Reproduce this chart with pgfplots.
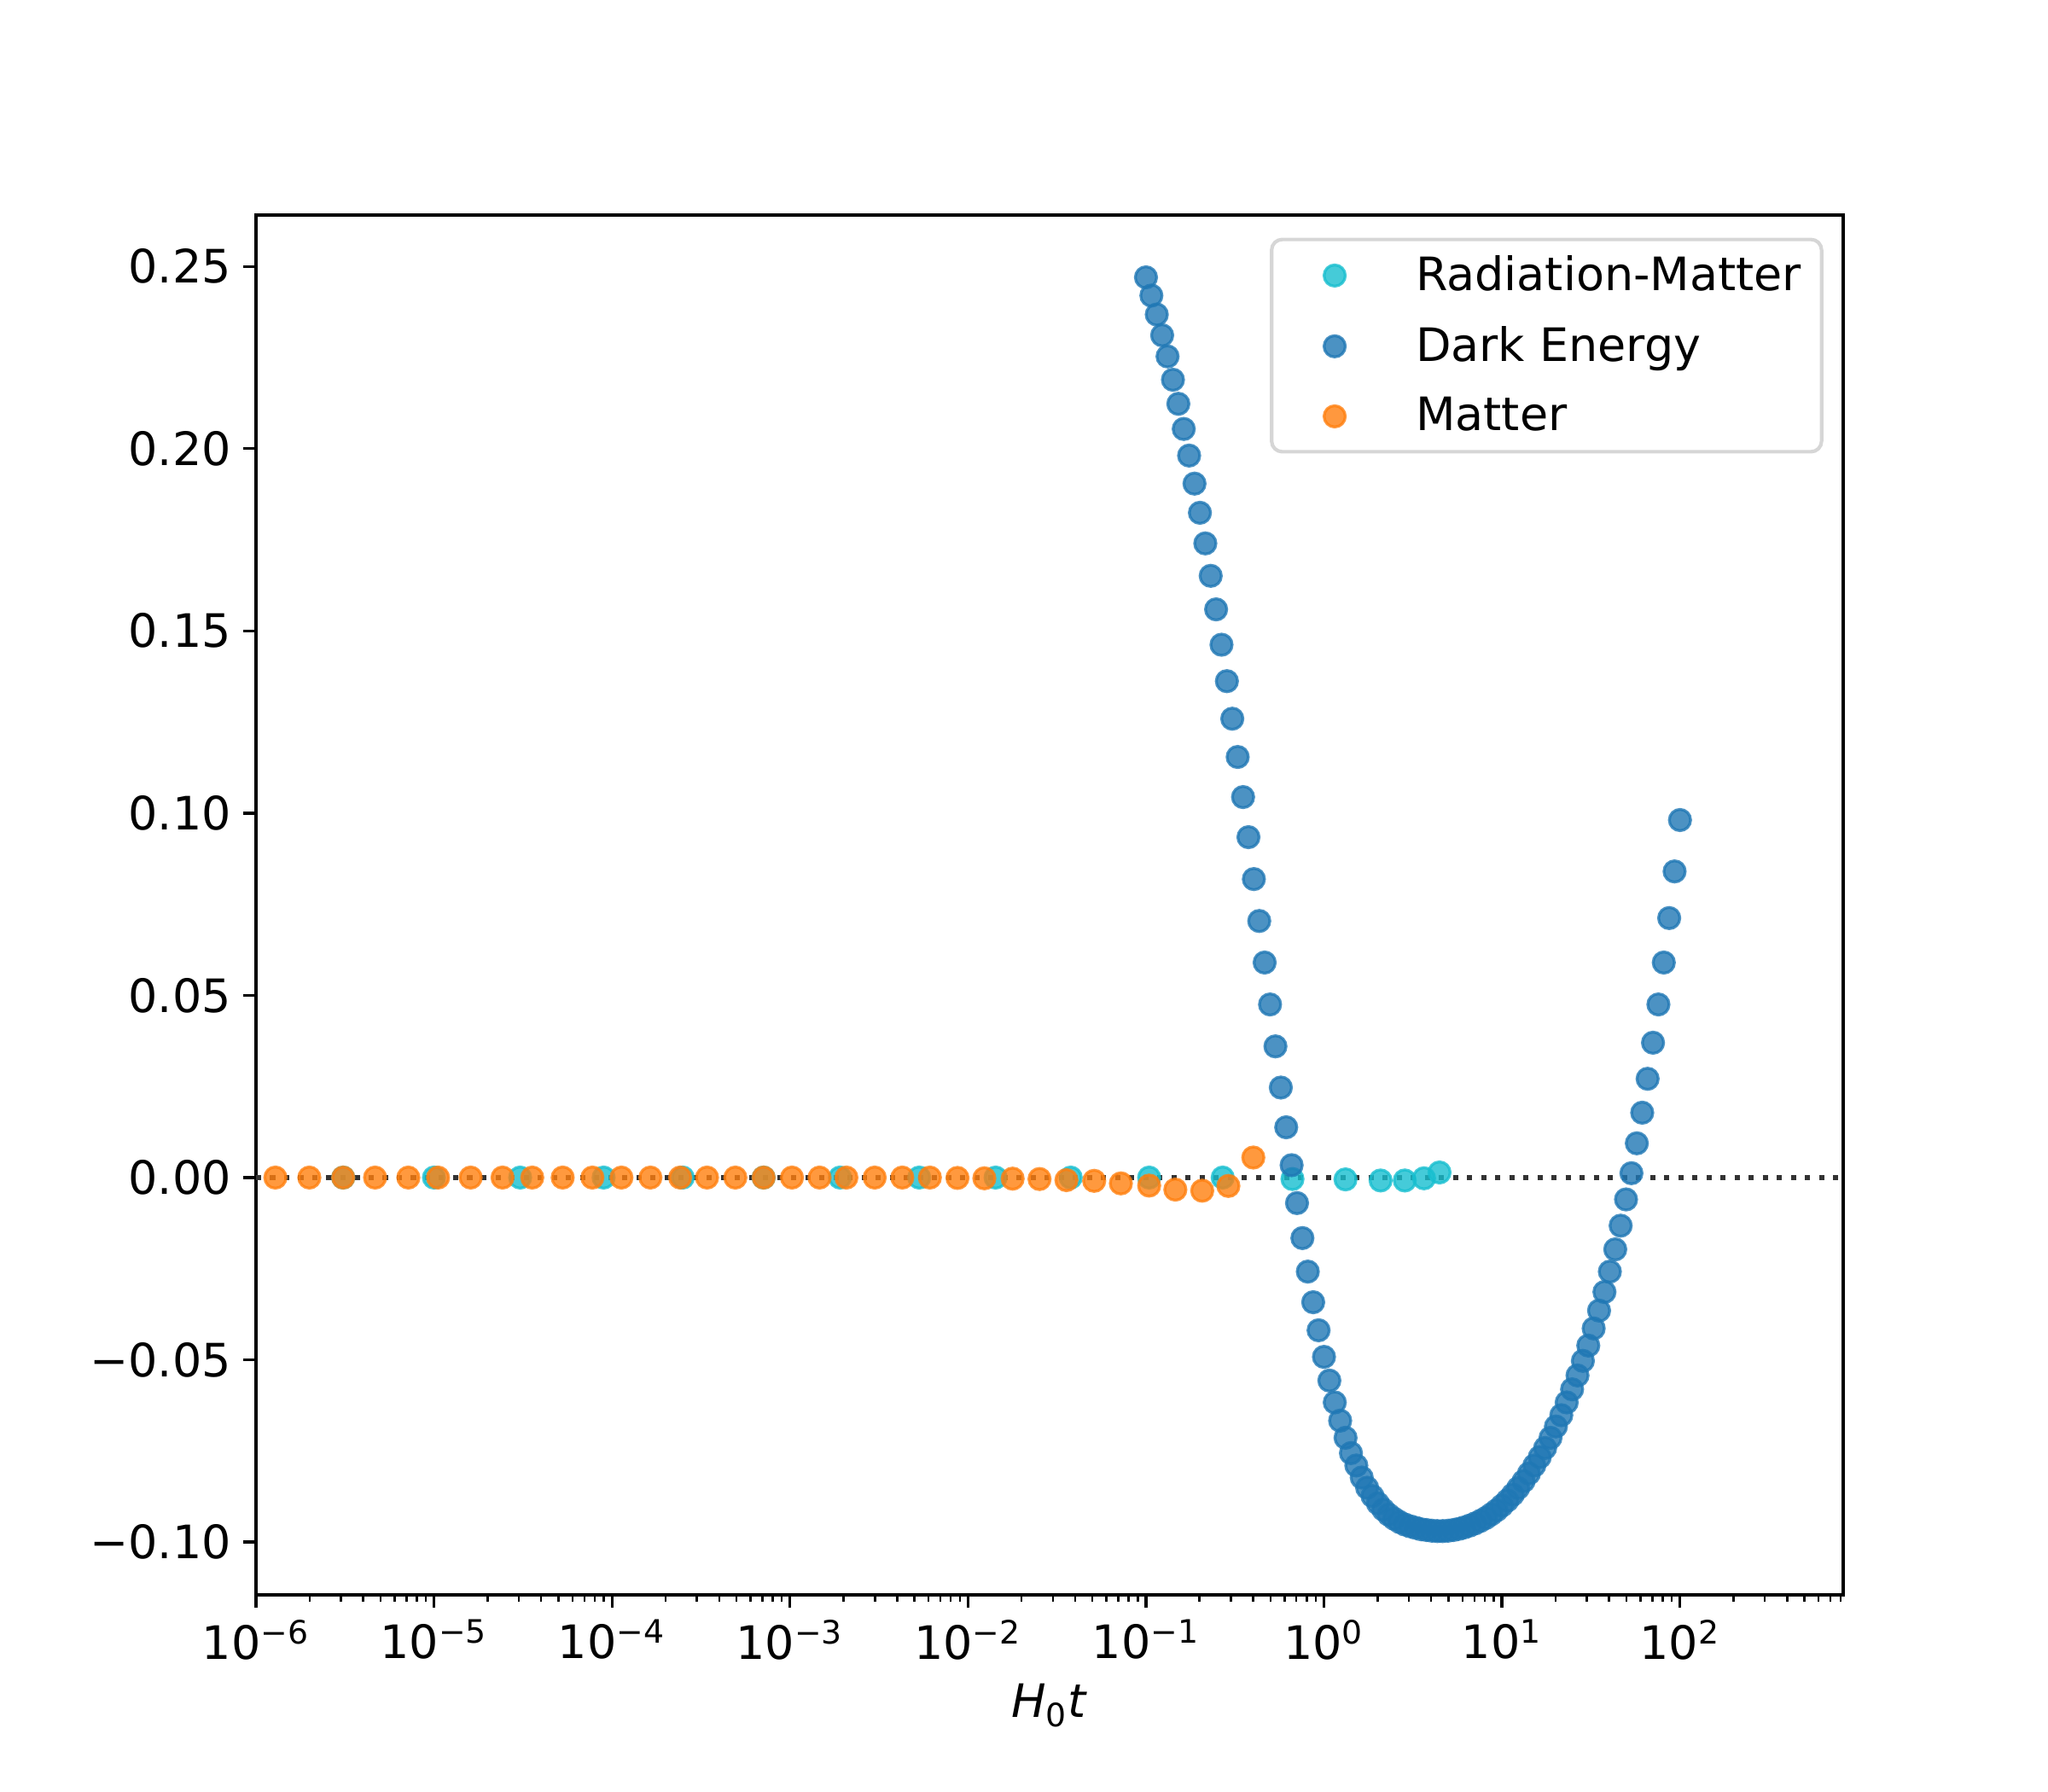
\documentclass[border=0pt]{standalone}
\usepackage{fontspec}
\setmainfont{DejaVu Sans}
\usepackage{pgfplots}
\pgfplotsset{compat=1.18}
\definecolor{tabcyan}{HTML}{17BECF}
\definecolor{tabblue}{HTML}{1F77B4}
\definecolor{taborange}{HTML}{FF7F0E}
\definecolor{legframe}{HTML}{D6D6D6}
\definecolor{zeroline}{HTML}{333333}

\pgfplotstableread{
t val
0.94e-6 0.0000
3.090e-6 0.0000
1.0e-5 0.0000
3.048e-5 0.0000
8.974e-5 0.0000
2.500e-4 0.0000
7.112e-4 0.0000
1.910e-3 0.0000
5.321e-3 0.0000
1.429e-2 0.0000
3.776e-2 0.0000
0.1042 0.0000
0.2698 0.0000
0.6653 -0.0004
1.321 -0.0005
2.080 -0.0008
2.844 -0.0008
3.648 -0.0002
4.457 0.0014
}\radmat

\pgfplotstableread{
t val
1.285e-6 0.0000
1.995e-6 0.0000
3.090e-6 0.0000
4.667e-6 0.0000
7.178e-6 0.0000
1.054e-5 0.0000
1.607e-5 0.0000
2.427e-5 0.0000
3.565e-5 0.0000
5.284e-5 0.0000
7.762e-5 0.0000
1.130e-4 0.0000
1.644e-4 0.0000
2.415e-4 0.0000
3.420e-4 0.0000
4.932e-4 0.0000
7.112e-4 0.0000
1.026e-3 0.0000
1.466e-3 0.0000
2.075e-3 0.0000
2.992e-3 0.0000
4.276e-3 0.0000
6.109e-3 0.0000
8.730e-3 -0.0001
1.236e-2 -0.0002
1.782e-2 -0.0003
2.523e-2 -0.0004
3.573e-2 -0.0007
5.117e-2 -0.0009
7.228e-2 -0.0016
0.1042 -0.0022
0.1462 -0.0033
0.2070 -0.0036
0.2904 -0.0023
0.4009 0.0055
}\matter

\pgfplotstableread{
t val
0.10000 0.2470
0.10723 0.2420
0.11498 0.2368
0.12328 0.2311
0.13219 0.2253
0.14175 0.2189
0.15199 0.2123
0.16298 0.2054
0.17475 0.1981
0.18738 0.1904
0.20092 0.1824
0.21544 0.1740
0.23101 0.1651
0.24771 0.1559
0.26561 0.1462
0.28480 0.1362
0.30539 0.1259
0.32745 0.1154
0.35112 0.1044
0.37649 0.0934
0.40370 0.0819
0.43288 0.0704
0.46416 0.0590
0.49770 0.0475
0.53367 0.0360
0.57224 0.0247
0.61359 0.0138
0.65793 0.0034
0.70548 -0.0070
0.75646 -0.0166
0.81113 -0.0258
0.86975 -0.0342
0.93260 -0.0419
1.0000 -0.0492
1.0723 -0.0557
1.1498 -0.0617
1.2328 -0.0667
1.3219 -0.0714
1.4175 -0.0756
1.5199 -0.0790
1.6298 -0.0823
1.7475 -0.0851
1.8738 -0.0874
2.0092 -0.0894
2.1544 -0.0911
2.3101 -0.0925
2.4771 -0.0936
2.6561 -0.0945
2.8480 -0.0952
3.0539 -0.0957
3.2745 -0.0961
3.5112 -0.0965
3.7649 -0.0967
4.0370 -0.0969
4.3288 -0.0970
4.6416 -0.0970
4.9770 -0.0969
5.3367 -0.0967
5.7224 -0.0964
6.1359 -0.0960
6.5793 -0.0955
7.0548 -0.0949
7.5646 -0.0942
8.1113 -0.0934
8.6975 -0.0924
9.3260 -0.0913
10.000 -0.0900
10.723 -0.0886
11.498 -0.0870
12.328 -0.0852
13.219 -0.0833
14.175 -0.0812
15.199 -0.0790
16.298 -0.0767
17.475 -0.0742
18.738 -0.0714
20.092 -0.0683
21.544 -0.0652
23.101 -0.0617
24.771 -0.0581
26.561 -0.0543
28.480 -0.0503
30.539 -0.0461
32.745 -0.0414
35.112 -0.0365
37.649 -0.0314
40.370 -0.0258
43.288 -0.0197
46.416 -0.0132
49.770 -0.0060
53.367 0.0012
57.224 0.0094
61.359 0.0178
65.793 0.0271
70.548 0.0370
75.646 0.0475
81.113 0.0590
86.975 0.0712
93.260 0.0840
100.00 0.0981
}\darkenergy

\pgfplotsset{
  legimg/.style={legend image code/.code={%
    \draw[mark repeat=2,mark phase=2,##1] plot coordinates {(0pt,0pt) (14.1pt,0pt) (35pt,0pt)};
    \path[draw=none,fill=none] (0pt,-3pt) rectangle (35pt,3pt);}},
  scat/.style={only marks, mark=*, mark size=3pt,
    mark options={draw=#1, fill=#1, fill opacity=0.8, draw opacity=0.8, line width=0.8pt},
    legimg},
}

\begin{document}
\begin{tikzpicture}
\path[use as bounding box] (0,0) rectangle (8in,7in);
\begin{axis}[
  at={(1in,0.77in)}, anchor=south west,
  scale only axis, width=6.2in, height=5.39in,
  xmode=log, xmin=1e-6, xmax=826, ymin=-0.1145, ymax=0.2641,
  xtick={1e-6,1e-5,1e-4,1e-3,1e-2,1e-1,1,10,100},
  xticklabels={10\textsuperscript{−6},10\textsuperscript{−5},10\textsuperscript{−4},10\textsuperscript{−3},10\textsuperscript{−2},10\textsuperscript{−1},10\textsuperscript{0},10\textsuperscript{1},10\textsuperscript{2}},
  minor xtick={2e-6,3e-6,4e-6,5e-6,6e-6,7e-6,8e-6,9e-6,
    2e-5,3e-5,4e-5,5e-5,6e-5,7e-5,8e-5,9e-5,
    2e-4,3e-4,4e-4,5e-4,6e-4,7e-4,8e-4,9e-4,
    2e-3,3e-3,4e-3,5e-3,6e-3,7e-3,8e-3,9e-3,
    2e-2,3e-2,4e-2,5e-2,6e-2,7e-2,8e-2,9e-2,
    0.2,0.3,0.4,0.5,0.6,0.7,0.8,0.9,
    2,3,4,5,6,7,8,9,
    20,30,40,50,60,70,80,90,
    200,300,400,500,600,700,800},
  ytick={-0.1,-0.05,0,0.05,0.1,0.15,0.2,0.25},
  yticklabels={−0.10,−0.05,0.00,0.05,0.10,0.15,0.20,0.25},
  tick align=outside, xtick pos=bottom, ytick pos=left,
  major tick length=3.5pt, minor tick length=2pt,
  every major tick/.append style={black, line width=0.8pt},
  every minor tick/.append style={black, line width=0.6pt},
  axis line style={line width=0.8pt},
  tick label style={font=\fontsize{13}{15.5}\selectfont},
  xlabel={\textit{H}\textsubscript{0}\textit{t}},
  xlabel style={font=\fontsize{13}{15.5}\selectfont},
  legend cell align=left,
  legend style={at={(1,1)}, anchor=north east, xshift=-5.6pt, yshift=-6.4pt,
    draw=legframe, line width=1pt, rounded corners=3pt, fill=white,
    font=\fontsize{13}{15.5}\selectfont, inner xsep=3.7pt, inner ysep=2.5pt,
    row sep=4.6pt, nodes={inner sep=2pt}},
]
\addplot[scat=tabcyan] table[x=t, y=val] {\radmat};
\addlegendentry{Radiation-Matter}
\addplot[scat=tabblue] table[x=t, y=val] {\darkenergy};
\addlegendentry{Dark Energy}
\addplot[scat=taborange] table[x=t, y=val] {\matter};
\addlegendentry{Matter}
\addplot[forget plot, zeroline, line width=1.5pt, dash pattern=on 1.5pt off 2.475pt] coordinates {(1e-6,0) (826,0)};
\end{axis}
\end{tikzpicture}
\end{document}
